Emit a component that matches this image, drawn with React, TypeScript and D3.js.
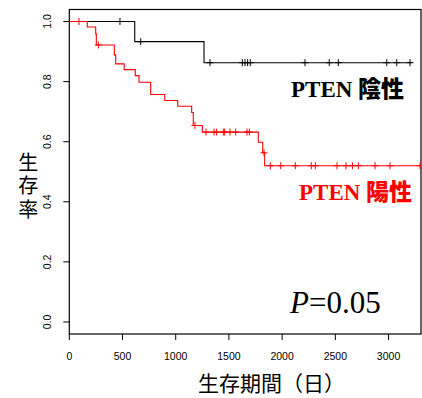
import React from 'react';
import * as d3 from 'd3';

// PTEN negative (black)
const negTimes = [0, 615, 1266];
const negSurv = [1.0, 0.933, 0.863];
const negEnd = 3215;
const negCensor = [476, 671, 1322, 1626, 1651, 1676, 1701, 2215, 2443, 2528, 2983, 3077, 3202];

// PTEN positive (red)
const posTimes = [0, 169, 248, 254, 423, 436, 516, 620, 655, 765, 897, 1019, 1150, 1165, 1250, 1776, 1818, 1836];
const posSurv = [1, 0.982, 0.959, 0.922, 0.889, 0.859, 0.84, 0.82, 0.798, 0.757, 0.737, 0.718, 0.697, 0.654, 0.632, 0.598, 0.563, 0.52];
const posEnd = 3296;
const posCensor = [91, 273, 1181, 1285, 1360, 1385, 1447, 1460, 1510, 1564, 1670, 1692, 1830, 1889, 1987, 2124, 2274, 2312, 2516, 2600, 2660, 2716, 2873, 3014, 3296];

const xTicks = [0, 500, 1000, 1500, 2000, 2500, 3000];
const yTicks = [0, 0.2, 0.4, 0.6, 0.8, 1.0];

const W = 422;
const H = 398;
const left = 69.3;
const right = 421;
const top = 9.5;
const bottom = 334;

const x = d3.scaleLinear().domain([0, 3305]).range([left, right]);
const y = d3.scaleLinear().domain([-0.04, 1.04]).range([bottom, top]);

const stepLine = d3
  .line<[number, number]>()
  .x((d) => x(d[0]))
  .y((d) => y(d[1]))
  .curve(d3.curveStepAfter);

function survAt(times: number[], surv: number[], t: number) {
  let s = surv[0];
  times.forEach((tt, i) => {
    if (tt <= t) s = surv[i];
  });
  return s;
}

function Curve({ times, surv, end, censor, color }: any) {
  const pts: [number, number][] = times.map((t: number, i: number) => [t, surv[i]]);
  pts.push([end, surv[surv.length - 1]]);
  return (
    <g>
      <path d={stepLine(pts) || ''} fill="none" stroke={color} strokeWidth={1.1} />
      {censor.map((t: number, i: number) => {
        const cx = x(t);
        const cy = y(survAt(times, surv, t));
        return (
          <g key={i} stroke={color} strokeWidth={1}>
            <line x1={cx} x2={cx} y1={cy - 3.5} y2={cy + 3.5} />
            <line x1={cx - 3.5} x2={cx + 3.5} y1={cy} y2={cy} />
          </g>
        );
      })}
    </g>
  );
}

export default function App() {
  const sans = '"Liberation Sans", Arial, sans-serif';
  const cjk = '"Noto Sans CJK JP", sans-serif';
  const serif = '"Liberation Serif", "Times New Roman", serif';
  return (
    <div style={{ position: 'fixed', left: 0, top: 0 }}>
      <svg width={W} height={H} style={{ display: 'block', background: '#fff' }}>
        <rect x={left} y={top} width={right - left} height={bottom - top} fill="none" stroke="#000" strokeWidth={1.2} />
        {yTicks.map((t) => (
          <g key={t}>
            <line x1={left - 6} x2={left} y1={y(t)} y2={y(t)} stroke="#000" />
            <text
              transform={`translate(${left - 18},${y(t)}) rotate(-90)`}
              textAnchor="middle"
              fontFamily={sans}
              fontSize={10.5}
            >
              {t.toFixed(1)}
            </text>
          </g>
        ))}
        {xTicks.map((t) => (
          <g key={t}>
            <line x1={x(t)} x2={x(t)} y1={bottom} y2={bottom + 6} stroke="#000" />
            <text x={x(t)} y={bottom + 26} textAnchor="middle" fontFamily={sans} fontSize={10.5}>
              {t}
            </text>
          </g>
        ))}
        <Curve times={negTimes} surv={negSurv} end={negEnd} censor={negCensor} color="#000" />
        <Curve times={posTimes} surv={posSurv} end={posEnd} censor={posCensor} color="#ff0000" />
        <text x={291} y={97} fontWeight="bold" fontSize={23} fill="#000">
          <tspan fontFamily={serif}>PTEN </tspan>
          <tspan fontFamily={cjk} fontWeight={900}>陰性</tspan>
        </text>
        <text x={299} y={200} fontWeight="bold" fontSize={23} fill="#ff0000">
          <tspan fontFamily={serif}>PTEN </tspan>
          <tspan fontFamily={cjk} fontWeight={900}>陽性</tspan>
        </text>
        <text x={290} y={313} fontFamily={serif} fontSize={31}>
          <tspan fontStyle="italic">P</tspan>=0.05
        </text>
        {/* vertical y label */}
        <text
          x={28.3}
          y={152}
          fontFamily={cjk}
          fontSize={20}
          letterSpacing={3.5}
          style={{ writingMode: 'vertical-rl', textOrientation: 'upright' } as any}
        >
          生存率
        </text>
        <text x={198} y={391} fontFamily={cjk} fontSize={21}>
          生存期間（日）
        </text>
      </svg>
    </div>
  );
}
